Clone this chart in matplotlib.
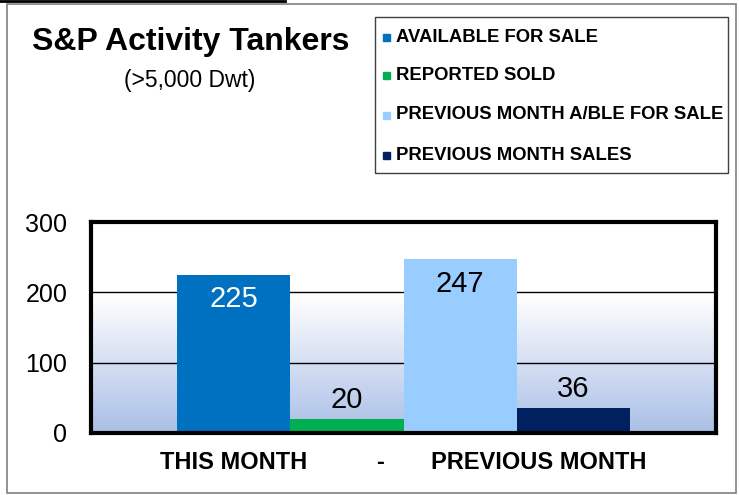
import numpy as np
import matplotlib.pyplot as plt
from matplotlib.patches import Rectangle
from matplotlib.colors import LinearSegmentedColormap

plt.rcParams['font.family'] = ['Liberation Sans', 'DejaVu Sans']

# datos
series = ['AVAILABLE FOR SALE', 'REPORTED SOLD',
          'PREVIOUS MONTH A/BLE FOR SALE', 'PREVIOUS MONTH SALES']
values = [225, 20, 247, 36]
colors = ['#0070C0', '#00B050', '#99CCFF', '#002060']
label_colors = ['white', 'black', 'black', 'black']
yticks = [0, 100, 200, 300]

fig = plt.figure(figsize=(7.39, 4.95), dpi=100)

# marco exterior gris y linea negra arriba
fig.patches.append(Rectangle((7/739, 2/495), 729/739, 489/495, transform=fig.transFigure,
                             fill=False, edgecolor='#808080', linewidth=1.2))
fig.lines.append(plt.Line2D([0, 285/739], [1 - 1/495, 1 - 1/495], transform=fig.transFigure,
                            color='black', linewidth=2))

ax = fig.add_axes([91/739, 1 - 433/495, 625/739, 211/495])
x = np.arange(len(values))
ax.set_xlim(-1.257, 4.257)
ax.set_ylim(0, 300)

# fondo degradado
cmap = LinearSegmentedColormap.from_list('bg', ['#AABFE6', '#FFFFFF'])
grad = np.linspace(0, 1, 256).reshape(-1, 1)
ax.imshow(grad, extent=[-1.257, 4.257, 0, 196], origin='lower', cmap=cmap,
          aspect='auto', zorder=0)

for yv in [100, 200]:
    ax.axhline(yv, color='black', linewidth=1, zorder=1)

bars = ax.bar(x, values, width=1.0, color=colors, zorder=2)
for xi, v, lc in zip(x, values, label_colors):
    if v > 100:
        ax.text(xi, v - 15, str(v), ha='center', va='top', fontsize=21, color=lc, zorder=3)
    else:
        ax.text(xi, v + 7, str(v), ha='center', va='bottom', fontsize=21, color=lc, zorder=3)

for s in ax.spines.values():
    s.set_linewidth(3)
    s.set_color('black')
ax.set_yticks(yticks)
ax.set_yticklabels([str(t) for t in yticks], fontsize=18)
ax.tick_params(axis='y', length=0, pad=17)
ax.set_xticks([])

# etiquetas del eje x
ax.text(0.0, -0.085, 'THIS MONTH', transform=ax.get_xaxis_transform(), ha='center', va='top',
        fontsize=17, fontweight='bold')
ax.text(1.29, -0.085, '-', transform=ax.get_xaxis_transform(), ha='center', va='top',
        fontsize=17, fontweight='bold')
ax.text(2.69, -0.085, 'PREVIOUS MONTH', transform=ax.get_xaxis_transform(), ha='center', va='top',
        fontsize=17, fontweight='bold')

# titulo
fig.text(191/739, 1 - 42/495, 'S&P Activity Tankers', ha='center', va='center',
         fontsize=23, fontweight='bold')
fig.text(190/739, 1 - 80/495, '(>5,000 Dwt)', ha='center', va='center', fontsize=16.5)

# leyenda
fig.patches.append(Rectangle((375/739, 1 - 173/495), 353/739, 156/495, transform=fig.transFigure,
                             fill=False, edgecolor='#404040', linewidth=1))
ys = [37, 75, 115, 155]
for name, c, yy in zip(series, colors, ys):
    fig.patches.append(Rectangle((383/739, 1 - (yy + 4)/495), 7/739, 7/495,
                                 transform=fig.transFigure, color=c))
    fig.text(396/739, 1 - yy/495, name, ha='left', va='center', fontsize=13.3, fontweight='bold')

fig.savefig('out.png', dpi=100)
